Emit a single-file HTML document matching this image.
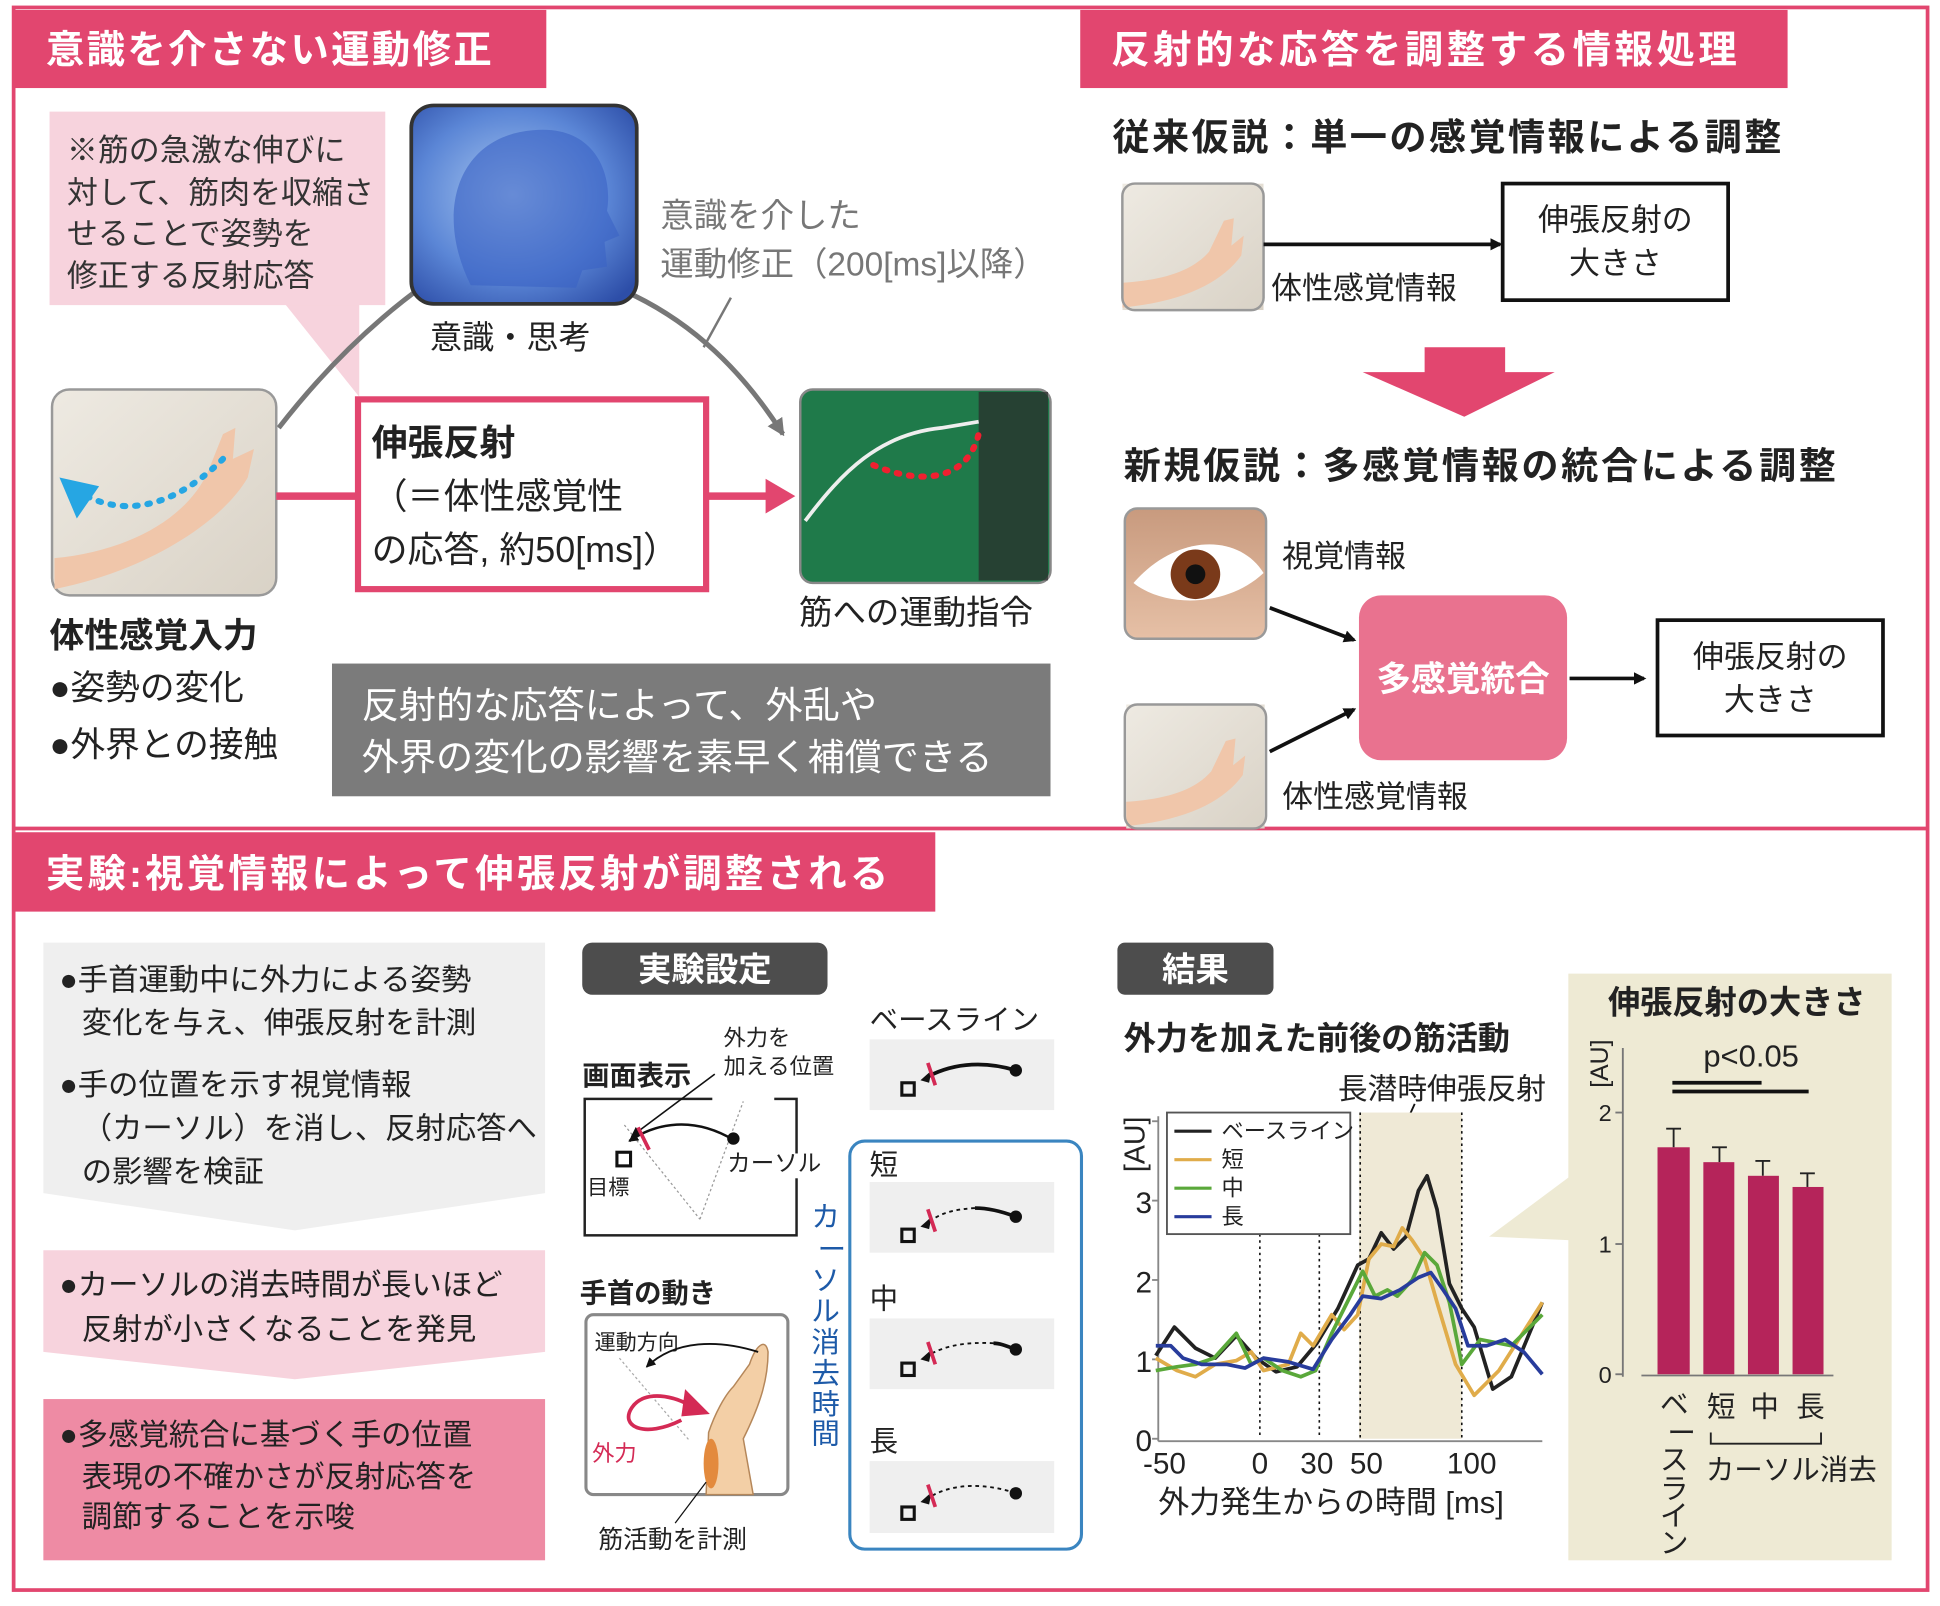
<!DOCTYPE html>
<html><head><meta charset="utf-8">
<style>
html,body{margin:0;padding:0;background:#fff;}
body{width:1940px;height:1600px;overflow:hidden;}
#w{width:1566px;height:1290px;transform:scale(1.2388,1.2403);transform-origin:0 0;}
svg text{font-family:"Liberation Sans","Noto Sans CJK JP",sans-serif;}
.b{font-weight:bold}
</style></head><body><div id="w">
<svg width="1566" height="1290" viewBox="0 0 1566 1290" xmlns="http://www.w3.org/2000/svg">
<defs>
<marker id="ak" markerWidth="10" markerHeight="10" refX="8" refY="5" orient="auto" markerUnits="userSpaceOnUse"><path d="M0,0 L10,5 L0,10 z" fill="#111"/></marker>
<marker id="ag" markerWidth="14" markerHeight="14" refX="12" refY="7" orient="auto" markerUnits="userSpaceOnUse"><path d="M0,0 L14,7 L0,14 z" fill="#777"/></marker>
<marker id="as" markerWidth="8" markerHeight="8" refX="7" refY="4" orient="auto" markerUnits="userSpaceOnUse"><path d="M0,0 L8,4 L0,8 z" fill="#111"/></marker>
<linearGradient id="hand" x1="0" y1="0" x2="1" y2="1"><stop offset="0" stop-color="#eeeae2"/><stop offset="1" stop-color="#d9d2c6"/></linearGradient>
<radialGradient id="brain" cx="0.45" cy="0.45" r="0.7"><stop offset="0" stop-color="#aac8f0"/><stop offset="0.6" stop-color="#5b86d6"/><stop offset="1" stop-color="#2d4ea8"/></radialGradient>
<linearGradient id="eye" x1="0" y1="0" x2="0" y2="1"><stop offset="0" stop-color="#c89a7e"/><stop offset="1" stop-color="#e6c0a6"/></linearGradient>
<symbol id="arm" viewBox="0 0 114 102"><rect width="114" height="102" fill="url(#hand)"/><path d="M0,80 C30,78 55,72 70,55 L82,30 L90,28 L88,50 L98,42 L96,58 C80,80 50,95 0,100 Z" fill="#f0c6aa"/></symbol>
</defs>

<rect x="11" y="6" width="1545" height="1276" fill="none" stroke="#e2466f" stroke-width="3"/>
<line x1="11" y1="668" x2="1556" y2="668" stroke="#e2466f" stroke-width="3"/>

<rect x="12" y="8" width="429" height="63" fill="#e2466f"/>
<text x="37" y="51" font-size="31" fill="#fff" class="b" textLength="360">意識を介さない運動修正</text>
<rect x="872" y="8" width="571" height="63" fill="#e2466f"/>
<text x="897" y="51" font-size="31" fill="#fff" class="b" textLength="505">反射的な応答を調整する情報処理</text>
<rect x="12" y="671" width="743" height="64" fill="#e2466f"/>
<text x="37" y="715" font-size="31" fill="#fff" class="b" textLength="680">実験:視覚情報によって伸張反射が調整される</text>

<polygon points="230,245 290,245 290,320" fill="#f7d3dd"/>
<rect x="40" y="90" width="271" height="156" fill="#f7d3dd"/>
<g font-size="25" fill="#333"><text x="54" y="130">※筋の急激な伸びに</text><text x="54" y="164">対して、筋肉を収縮さ</text><text x="54" y="197">せることで姿勢を</text><text x="54" y="231">修正する反射応答</text></g>

<path d="M225,345 C260,300 300,260 345,228" fill="none" stroke="#777" stroke-width="4"/>
<path d="M505,235 C560,260 600,300 632,350" fill="none" stroke="#777" stroke-width="4" marker-end="url(#ag)"/>
<line x1="568" y1="280" x2="590" y2="240" stroke="#777" stroke-width="2"/>
<rect x="332" y="85" width="182" height="160" rx="18" fill="url(#brain)" stroke="#333" stroke-width="3"/>
<path d="M380,230 C350,170 370,110 430,105 C480,100 495,140 490,170 L500,190 L488,195 L490,215 L470,218 L465,232 Z" fill="#3b63c4" opacity="0.6"/>
<text x="347" y="281" font-size="26" fill="#222">意識・思考</text>
<g font-size="27" fill="#777"><text x="533" y="183">意識を介した</text><text x="533" y="222">運動修正（200[ms]以降）</text></g>

<rect x="42" y="314" width="181" height="166" rx="14" fill="url(#hand)" stroke="#999" stroke-width="2"/>
<path d="M44,450 C100,445 150,420 168,380 L180,350 L190,345 L188,370 L205,362 L200,385 C180,420 120,460 44,475 Z" fill="#f0c6aa"/>
<path d="M180,370 C150,400 110,420 70,400" fill="none" stroke="#26a6e3" stroke-width="5" stroke-dasharray="2,8" stroke-linecap="round"/>
<polygon points="48,385 80,392 62,418" fill="#26a6e3"/>

<line x1="223" y1="400" x2="287" y2="400" stroke="#e2466f" stroke-width="6"/>
<line x1="571" y1="400" x2="622" y2="400" stroke="#e2466f" stroke-width="6"/>
<polygon points="618,386 642,400 618,414" fill="#e2466f"/>
<rect x="289" y="322" width="281" height="153" fill="#fff" stroke="#e2466f" stroke-width="5"/>
<g font-size="29" fill="#222"><text x="300" y="367" class="b">伸張反射</text><text x="300" y="410">（＝体性感覚性</text><text x="300" y="453">の応答, 約50[ms]）</text></g>

<rect x="646" y="314" width="202" height="156" rx="10" fill="#1f7a4a" stroke="#888" stroke-width="2"/>
<rect x="790" y="316" width="56" height="152" fill="#2a2a2a" opacity="0.7"/>
<path d="M650,420 C680,380 710,350 760,345 L790,340" fill="none" stroke="#eee" stroke-width="3"/>
<path d="M705,375 C740,390 780,390 790,350" fill="none" stroke="#f02030" stroke-width="5" stroke-dasharray="2,8" stroke-linecap="round"/>
<text x="645" y="503" font-size="27" fill="#222">筋への運動指令</text>

<g font-size="28" fill="#222"><text x="40" y="522" class="b">体性感覚入力</text><text x="40" y="564">●姿勢の変化</text><text x="40" y="610">●外界との接触</text></g>
<rect x="268" y="535" width="580" height="107" fill="#7b7b7b"/>
<g font-size="30" fill="#fff"><text x="292" y="579">反射的な応答によって、外乱や</text><text x="292" y="621">外界の変化の影響を素早く補償できる</text></g>

<text x="898" y="121" font-size="30" fill="#222" class="b" textLength="540">従来仮説：単一の感覚情報による調整</text>
<use href="#arm" x="906" y="148" width="114" height="102"/>
<rect x="906" y="148" width="114" height="102" rx="10" fill="none" stroke="#999" stroke-width="2"/>
<line x1="1020" y1="197" x2="1211" y2="197" stroke="#111" stroke-width="3" marker-end="url(#ak)"/>
<text x="1026" y="241" font-size="25" fill="#222">体性感覚情報</text>
<rect x="1213" y="148" width="182" height="94" fill="#fff" stroke="#111" stroke-width="3"/>
<g font-size="25" fill="#222" text-anchor="middle"><text x="1304" y="186">伸張反射の</text><text x="1304" y="221">大きさ</text></g>
<polygon points="1150,280 1215,280 1215,300 1255,300 1182,336 1100,300 1150,300" fill="#e2466f"/>
<text x="907" y="386" font-size="30" fill="#222" class="b" textLength="575">新規仮説：多感覚情報の統合による調整</text>
<rect x="908" y="410" width="114" height="105" rx="10" fill="url(#eye)" stroke="#999" stroke-width="2"/>
<path d="M915,470 C950,430 1000,430 1020,462 C990,490 940,490 915,470 Z" fill="#fff"/>
<circle cx="965" cy="463" r="20" fill="#7a3a1a"/><circle cx="965" cy="463" r="8" fill="#111"/>
<text x="1035" y="457" font-size="25" fill="#222">視覚情報</text>
<use href="#arm" x="908" y="568" width="114" height="100"/>
<rect x="908" y="568" width="114" height="100" rx="10" fill="none" stroke="#999" stroke-width="2"/>
<text x="1035" y="651" font-size="25" fill="#222">体性感覚情報</text>
<line x1="1025" y1="490" x2="1093" y2="516" stroke="#111" stroke-width="3" marker-end="url(#ak)"/>
<line x1="1025" y1="606" x2="1093" y2="572" stroke="#111" stroke-width="3" marker-end="url(#ak)"/>
<rect x="1097" y="480" width="168" height="133" rx="18" fill="#e9728f"/>
<text x="1181" y="557" font-size="28" fill="#fff" text-anchor="middle" class="b">多感覚統合</text>
<line x1="1267" y1="547" x2="1327" y2="547" stroke="#111" stroke-width="3" marker-end="url(#ak)"/>
<rect x="1338" y="500" width="182" height="93" fill="#fff" stroke="#111" stroke-width="3"/>
<g font-size="25" fill="#222" text-anchor="middle"><text x="1429" y="538">伸張反射の</text><text x="1429" y="573">大きさ</text></g>

<polygon points="35,760 440,760 440,962 238,992 35,962" fill="#efefef"/>
<g font-size="24.5" fill="#222"><text x="48" y="798">●手首運動中に外力による姿勢</text><text x="66" y="833">変化を与え、伸張反射を計測</text><text x="48" y="883">●手の位置を示す視覚情報</text><text x="66" y="918">（カーソル）を消し、反射応答へ</text><text x="66" y="953">の影響を検証</text></g>
<polygon points="35,1008 440,1008 440,1090 238,1112 35,1090" fill="#f7d3dd"/>
<g font-size="24.5" fill="#222"><text x="48" y="1044">●カーソルの消去時間が長いほど</text><text x="66" y="1080">反射が小さくなることを発見</text></g>
<rect x="35" y="1128" width="405" height="130" fill="#ee8ba4"/>
<g font-size="24.5" fill="#222"><text x="48" y="1165">●多感覚統合に基づく手の位置</text><text x="66" y="1199">表現の不確かさが反射応答を</text><text x="66" y="1231">調節することを示唆</text></g>

<rect x="470" y="760" width="198" height="42" rx="8" fill="#4d4d4d"/>
<text x="569" y="791" font-size="27" fill="#fff" text-anchor="middle" class="b">実験設定</text>
<text x="470" y="875" font-size="22" fill="#222" class="b">画面表示</text>
<g font-size="18" fill="#222"><text x="584" y="843">外力を</text><text x="584" y="866">加える位置</text></g>
<rect x="472" y="886" width="171" height="110" fill="#fff" stroke="#222" stroke-width="2"/>
<rect x="575" y="880" width="50" height="10" fill="#fff"/>
<rect x="640" y="930" width="8" height="20" fill="#fff"/>
<line x1="504" y1="907" x2="565" y2="983" stroke="#999" stroke-width="1" stroke-dasharray="2,2"/>
<line x1="565" y1="983" x2="600" y2="888" stroke="#999" stroke-width="1" stroke-dasharray="2,2"/>
<path d="M592,919 C560,900 530,905 508,920" fill="none" stroke="#111" stroke-width="2" marker-end="url(#as)"/>
<line x1="577" y1="866" x2="510" y2="916" stroke="#111" stroke-width="1.3" marker-end="url(#as)"/>
<circle cx="592" cy="918" r="5" fill="#111"/>
<line x1="515" y1="909" x2="524" y2="927" stroke="#d42a55" stroke-width="3"/>
<rect x="498" y="929" width="11" height="11" fill="none" stroke="#111" stroke-width="2.5"/>
<text x="474" y="963" font-size="17" fill="#222">目標</text>
<text x="587" y="944" font-size="19" fill="#222">カーソル</text>

<text x="468" y="1050" font-size="22" fill="#222" class="b">手首の動き</text>
<rect x="473" y="1060" width="163" height="145" rx="6" fill="#fff" stroke="#888" stroke-width="2.5"/>
<text x="480" y="1088" font-size="17" fill="#222">運動方向</text>
<line x1="500" y1="1095" x2="557" y2="1162" stroke="#aaa" stroke-width="1" stroke-dasharray="2,2"/>
<path d="M608,1205 L600,1160 C615,1130 620,1110 620,1090 C618,1078 610,1085 605,1100 L592,1118 C585,1125 577,1140 572,1155 L570,1205 Z" fill="#f3cfa6" stroke="#b5875a" stroke-width="1.2"/>
<ellipse cx="574" cy="1180" rx="6" ry="20" fill="#e38a3d"/>
<path d="M612,1090 C580,1080 545,1080 522,1102" fill="none" stroke="#111" stroke-width="1.5" marker-end="url(#as)"/>
<path d="M550,1145 C520,1160 500,1150 510,1135 C520,1120 545,1125 560,1135" fill="none" stroke="#d42a55" stroke-width="3"/>
<polygon points="553,1120 573,1140 550,1142" fill="#d42a55"/>
<text x="478" y="1178" font-size="18" fill="#d42a55">外力</text>
<line x1="570" y1="1195" x2="545" y2="1228" stroke="#111" stroke-width="1"/>
<text x="483" y="1248" font-size="20" fill="#222">筋活動を計測</text>

<text x="702" y="830" font-size="23" fill="#222">ベースライン</text>
<rect x="686" y="920" width="187" height="329" rx="12" fill="#fff" stroke="#3a85c0" stroke-width="2.5"/>
<g font-size="23" fill="#222"><text x="702" y="947">短</text><text x="702" y="1055">中</text><text x="702" y="1170">長</text></g>
<g font-size="23" fill="#1d5aa8"><text x="655" y="989">カ</text><text x="660" y="1015">ー</text><text x="655" y="1040">ソ</text><text x="655" y="1065">ル</text><text x="655" y="1090">消</text><text x="655" y="1115">去</text><text x="655" y="1140">時</text><text x="655" y="1164">間</text></g>

<g transform="translate(702,838)">
<rect width="149" height="57" fill="#efefef"/>
<path d="M118,25 C95,18 70,18 47,30" fill="none" stroke="#111" stroke-width="3"/>
<circle cx="118" cy="25" r="5" fill="#111"/><polygon points="41,33 50,25 48,35" fill="#111"/>
<line x1="47" y1="19" x2="53" y2="37" stroke="#d42a55" stroke-width="3"/>
<rect x="26" y="35" width="10" height="10" fill="none" stroke="#111" stroke-width="2.5"/>
</g>
<g transform="translate(702,953)">
<rect width="149" height="57" fill="#efefef"/>
<path d="M118,28 C105,23 95,21 85,21" fill="none" stroke="#111" stroke-width="3"/>
<path d="M85,21 C70,22 58,24 47,33" fill="none" stroke="#111" stroke-width="1.5" stroke-dasharray="3,3"/>
<circle cx="118" cy="28" r="5" fill="#111"/><polygon points="41,36 50,28 48,38" fill="#111"/>
<line x1="47" y1="22" x2="53" y2="40" stroke="#d42a55" stroke-width="3"/>
<rect x="26" y="38" width="10" height="10" fill="none" stroke="#111" stroke-width="2.5"/>
</g>
<g transform="translate(702,1063)">
<rect width="149" height="57" fill="#efefef"/>
<path d="M118,25 C110,22 105,20 100,20" fill="none" stroke="#111" stroke-width="3"/>
<path d="M100,20 C80,19 62,21 47,30" fill="none" stroke="#111" stroke-width="1.5" stroke-dasharray="3,3"/>
<circle cx="118" cy="25" r="5" fill="#111"/><polygon points="41,33 50,25 48,35" fill="#111"/>
<line x1="47" y1="19" x2="53" y2="37" stroke="#d42a55" stroke-width="3"/>
<rect x="26" y="36" width="10" height="10" fill="none" stroke="#111" stroke-width="2.5"/>
</g>
<g transform="translate(702,1178)">
<rect width="149" height="58" fill="#efefef"/>
<path d="M112,24 C90,18 65,18 47,30" fill="none" stroke="#111" stroke-width="1.5" stroke-dasharray="3,3"/>
<circle cx="118" cy="26" r="5" fill="#111"/><polygon points="41,33 50,25 48,35" fill="#111"/>
<line x1="47" y1="19" x2="53" y2="37" stroke="#d42a55" stroke-width="3"/>
<rect x="26" y="37" width="10" height="10" fill="none" stroke="#111" stroke-width="2.5"/>
</g>

<rect x="902" y="760" width="126" height="42" rx="6" fill="#4d4d4d"/>
<text x="965" y="791" font-size="27" fill="#fff" text-anchor="middle" class="b">結果</text>
<text x="907" y="846" font-size="26" fill="#222" class="b">外力を加えた前後の筋活動</text>
<text x="1080" y="886" font-size="24" fill="#222">長潜時伸張反射</text>
<line x1="1142" y1="890" x2="1126" y2="925" stroke="#111" stroke-width="1.5"/>
<rect x="1097" y="897" width="83" height="263" fill="#efe9d6"/>
<g stroke="#111" stroke-width="1.3" stroke-dasharray="2,3"><line x1="1017" y1="995" x2="1017" y2="1160"/><line x1="1065" y1="995" x2="1065" y2="1160"/><line x1="1098" y1="897" x2="1098" y2="1160"/><line x1="1180" y1="897" x2="1180" y2="1160"/></g>
<line x1="935" y1="900" x2="935" y2="1162" stroke="#888" stroke-width="1.5"/>
<line x1="935" y1="1162" x2="1245" y2="1162" stroke="#888" stroke-width="1.5"/>
<g stroke="#888" stroke-width="1.5"><line x1="930" y1="1160" x2="935" y2="1160"/><line x1="930" y1="1096" x2="935" y2="1096"/><line x1="930" y1="1032" x2="935" y2="1032"/><line x1="930" y1="968" x2="935" y2="968"/><line x1="930" y1="904" x2="935" y2="904"/></g>
<g font-size="24" fill="#222" text-anchor="end"><text x="930" y="1170">0</text><text x="930" y="1106">1</text><text x="930" y="1042">2</text><text x="930" y="978">3</text></g>
<text transform="translate(924,945) rotate(-90)" font-size="23" fill="#222">[AU]</text>
<g font-size="24" fill="#222" text-anchor="middle"><text x="940" y="1188">-50</text><text x="1017" y="1188">0</text><text x="1063" y="1188">30</text><text x="1103" y="1188">50</text><text x="1188" y="1188">100</text></g>
<text x="935" y="1220" font-size="25" fill="#222">外力発生からの時間 [ms]</text>
<g fill="none" stroke-width="3" stroke-linejoin="round">
<polyline stroke="#222" points="933,1093 948,1070 965,1087 981,1095 998,1077 1014,1095 1030,1106 1047,1102 1063,1083 1080,1055 1096,1020 1105,1015 1115,994 1125,1007 1135,997 1145,960 1152,948 1160,975 1170,1035 1180,1055 1190,1070 1205,1120 1220,1110 1245,1050"/>
<polyline stroke="#e0ac4a" points="933,1095 950,1105 965,1110 981,1100 998,1097 1010,1090 1020,1105 1040,1100 1050,1075 1060,1085 1075,1060 1085,1072 1096,1060 1105,1015 1115,1003 1125,1005 1132,990 1140,1000 1150,1015 1160,1050 1175,1100 1190,1125 1210,1105 1245,1050"/>
<polyline stroke="#5aa83a" points="933,1105 950,1102 965,1100 980,1095 998,1075 1010,1100 1020,1095 1035,1105 1050,1110 1062,1105 1075,1075 1090,1045 1100,1025 1110,1045 1120,1040 1128,1045 1140,1032 1150,1010 1160,1020 1170,1050 1180,1100 1195,1080 1220,1085 1245,1060"/>
<polyline stroke="#283c9c" points="933,1085 945,1085 955,1095 970,1100 990,1100 1005,1103 1020,1095 1040,1098 1060,1104 1075,1080 1090,1060 1100,1045 1115,1047 1130,1040 1145,1030 1155,1026 1165,1040 1175,1055 1185,1085 1200,1085 1215,1080 1230,1090 1245,1108"/>
</g>
<rect x="942" y="897" width="148" height="98" fill="#fff" stroke="#555" stroke-width="1.5"/>
<g stroke-width="2.5"><line x1="948" y1="912" x2="978" y2="912" stroke="#222"/><line x1="948" y1="935" x2="978" y2="935" stroke="#e0ac4a"/><line x1="948" y1="958" x2="978" y2="958" stroke="#5aa83a"/><line x1="948" y1="981" x2="978" y2="981" stroke="#283c9c"/></g>
<g font-size="18" fill="#222"><text x="986" y="918">ベースライン</text><text x="986" y="941">短</text><text x="986" y="964">中</text><text x="986" y="987">長</text></g>

<polygon points="1202,997 1268,948 1268,1000" fill="#eeead4"/>
<rect x="1266" y="785" width="261" height="473" fill="#eeead4"/>
<text x="1298" y="817" font-size="26" fill="#222" class="b">伸張反射の大きさ</text>
<text transform="translate(1298,877) rotate(-90)" font-size="20" fill="#222">[AU]</text>
<text x="1375" y="860" font-size="25" fill="#222">p&lt;0.05</text>
<line x1="1350" y1="873" x2="1422" y2="873" stroke="#111" stroke-width="3"/>
<line x1="1350" y1="880" x2="1460" y2="880" stroke="#111" stroke-width="3"/>
<line x1="1310" y1="845" x2="1310" y2="1110" stroke="#777" stroke-width="1.5"/>
<g stroke="#777" stroke-width="1.5"><line x1="1304" y1="1108" x2="1310" y2="1108"/><line x1="1304" y1="1003" x2="1310" y2="1003"/><line x1="1304" y1="897" x2="1310" y2="897"/></g>
<g font-size="19" fill="#222" text-anchor="end"><text x="1301" y="1115">0</text><text x="1301" y="1010">1</text><text x="1301" y="904">2</text></g>
<g stroke="#222" stroke-width="1.5"><line x1="1351" y1="925" x2="1351" y2="910"/><line x1="1345" y1="910" x2="1357" y2="910"/><line x1="1388" y1="937" x2="1388" y2="925"/><line x1="1382" y1="925" x2="1394" y2="925"/><line x1="1423" y1="948" x2="1423" y2="936"/><line x1="1417" y1="936" x2="1429" y2="936"/><line x1="1459" y1="957" x2="1459" y2="946"/><line x1="1453" y1="946" x2="1465" y2="946"/></g>
<g fill="#b5245a"><rect x="1338" y="925" width="26" height="183"/><rect x="1375" y="937" width="25" height="171"/><rect x="1411" y="948" width="25" height="160"/><rect x="1447" y="957" width="25" height="151"/></g>
<line x1="1325" y1="1109" x2="1480" y2="1109" stroke="#777" stroke-width="1.5"/>
<g font-size="23" fill="#222"><text x="1340" y="1140">ベ</text><text x="1346" y="1163">ー</text><text x="1340" y="1185">ス</text><text x="1340" y="1208">ラ</text><text x="1340" y="1230">イ</text><text x="1340" y="1252">ン</text></g>
<g font-size="23" fill="#222"><text x="1378" y="1142">短</text><text x="1413" y="1142">中</text><text x="1450" y="1142">長</text></g>
<path d="M1381,1155 L1381,1164 L1470,1164 L1470,1155" fill="none" stroke="#222" stroke-width="1.5"/>
<text x="1377" y="1193" font-size="23" fill="#222">カーソル消去</text>
</svg>
</div></body></html>
